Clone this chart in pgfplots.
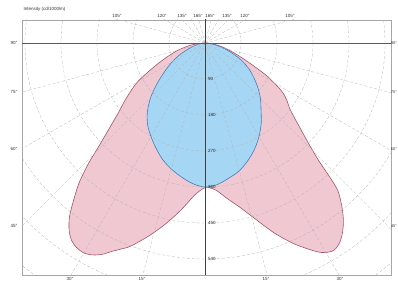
\documentclass[border=0pt]{standalone}
\usepackage{fontspec}
\setmainfont{Liberation Sans}
\usepackage{pgfplots}
\pgfplotsset{compat=1.18}
\usepackage{pgfplotstable}
\definecolor{pinkfill}{RGB}{240,200,210}
\definecolor{pinkedge}{RGB}{165,85,105}
\definecolor{bluefill}{RGB}{165,215,245}
\definecolor{blueedge}{RGB}{70,125,185}
\definecolor{gridc}{RGB}{180,180,180}
\definecolor{hline}{RGB}{150,60,80}

\pgfplotstableread{
a r
-90 0
-85 18
-80 42
-75 70
-70 100
-65 140
-60 195
-55 240
-51 280
-48 325
-46 365
-44 420
-42 470
-40 510
-38 550
-36 578
-34 596
-32 604
-30 606
-28 600
-26 588
-24 570
-22 555
-20 540
-16 500
-12 460
-8 420
-4 382
0 362
4 368
8 392
12 420
16 458
20 505
24 550
28 590
30 605
32 610
34 602
36 585
38 562
40 532
42 496
43 455
44 410
46 358
48 322
52 270
55 250
58 225
62 175
66 120
70 85
75 55
80 33
85 14
90 0
}\pinkdata

\pgfplotstableread{
a r
-90 0
-85 6
-80 15
-75 28
-70 45
-65 70
-60 95
-55 122
-50 155
-45 192
-40 224
-35 250
-30 270
-25 290
-20 310
-15 326
-10 340
-5 353
0 360
5 355
10 343
15 331
20 313
25 293
30 270
35 245
40 218
45 196
50 172
55 148
60 125
65 98
70 70
75 45
80 25
85 10
90 0
}\bluedata

\begin{document}
\begin{tikzpicture}[font=\fontsize{4.5}{5}\selectfont]
\begin{axis}[at={(0,0)}, anchor=south west,
  width=369pt, height=255pt, scale only axis,
  xmin=-457.5, xmax=465, ymin=-580, ymax=57.5,
  xtick=\empty, ytick=\empty,
  axis line style={gray!70, line width=0.6pt},
  clip=true]
\addplot[fill=pinkfill, draw=pinkedge, line width=0.6pt, smooth]
  table[x expr={\thisrow{r}*sin(\thisrow{a})}, y expr={-\thisrow{r}*cos(\thisrow{a})}] {\pinkdata};
\addplot[fill=bluefill, draw=blueedge, line width=0.6pt, smooth]
  table[x expr={\thisrow{r}*sin(\thisrow{a})}, y expr={-\thisrow{r}*cos(\thisrow{a})}] {\bluedata};
\pgfplotsinvokeforeach{90,180,270,360,450,540,630,720,810}{
  \draw[gridc, densely dashed, line width=0.3pt] (axis cs:0,0) circle[radius=#1];
}
\pgfplotsinvokeforeach{0,15,30,45,60,75,105,120,135,150,165,180,195,210,225,240,255,285,300,315,330,345}{
  \draw[gridc, densely dashed, line width=0.3pt] (axis cs:0,0) -- (axis cs:{1200*sin(#1)},{-1200*cos(#1)});
}
\draw[hline, line width=0.6pt] (axis cs:-500,0) -- (axis cs:500,0);
\draw[gray!50!black, line width=0.5pt] (axis cs:0,-600) -- (axis cs:0,100);
\end{axis}
% title
\node[anchor=west, text=gray!40!black] at (-2pt,266pt) {Intensity (cd/1000lm)};
% top labels
\foreach \x/\t in {95/105°, 140/120°, 160/135°, 176/165°, 188/165°, 205/135°, 223/120°, 268/105°}
  \node[text=gray!40!black] at (\x pt,259pt) {\t};
% side labels
\foreach \y/\t in {232/90°, 183/75°, 126/60°, 49/45°} {
  \node[anchor=east, text=gray!40!black] at (-1pt,\y pt) {\t};
  \node[text=gray!40!black, font=\fontsize{4}{4.5}\selectfont, inner sep=0pt] at (372pt,\y pt) {\t};
}
% bottom labels
\foreach \x/\t in {48/30°, 120/15°, 244/15°, 318/30°}
  \node[text=gray!40!black] at (\x pt,-4pt) {\t};
% ring labels
\foreach \k/\t in {1/90, 2/180, 3/270, 4/360, 5/450, 6/540}
  \node[anchor=west, text=gray!30!black, inner sep=1pt] at (185pt,{(232-36*\k)*1pt}) {\t};
\pgfresetboundingbox
\path[use as bounding box] (-22pt,-8pt) rectangle (376pt,275pt);
\end{tikzpicture}
\end{document}
